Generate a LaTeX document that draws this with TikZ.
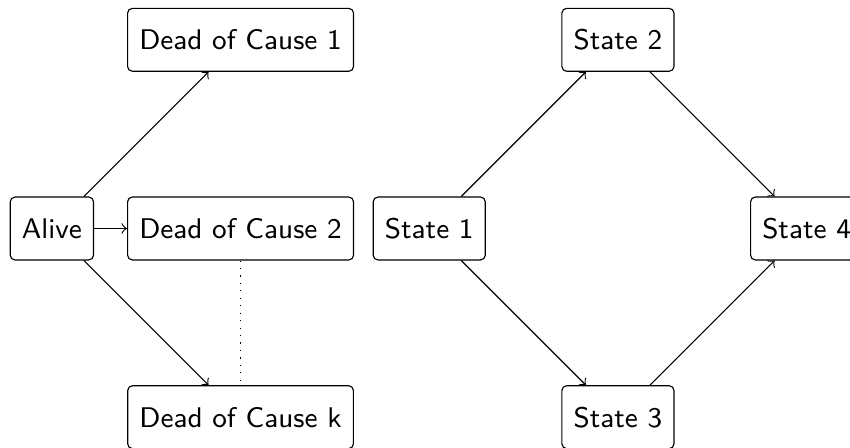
\documentclass[tikz,border=0pt]{standalone}
\usepackage{amsmath}
\usepackage{tikz}

\begin{document}
\begin{tikzpicture}[x = 2.1cm, y = 2.1cm, line width = 0.36pt,
                        box/.style = {rectangle, draw, rounded corners = 1.5pt, font = \sffamily\small, minimum height = 0.7cm, inner sep = 0.37em}]
      \useasboundingbox (-0.275, -1.159) rectangle (4.23, 1.211);
      \node [box] (alive) at (0, 0) {Alive};
      \node [box] (d1) at (1, 1) {Dead of Cause 1};
      \node [box] (d2) at (1, 0) {Dead of Cause 2};
      \node [box] (dk) at (1, -1) {Dead of Cause k};
      \node [box] (s1) at (2, 0) {State 1};
      \node [box] (s2) at (3, 1) {State 2};
      \node [box] (s3) at (3, -1) {State 3};
      \node [box] (s4) at (4, 0) {State 4};
      \draw [->] (alive) -- (d1); \draw [->] (alive) -- (d2); \draw [->] (alive) -- (dk);
      \draw [dotted] (d2) -- (dk);
      \draw [->] (s1) -- (s2); \draw [->] (s1) -- (s3);
      \draw [->] (s2) -- (s4); \draw [->] (s3) -- (s4);
    \end{tikzpicture}
\end{document}
